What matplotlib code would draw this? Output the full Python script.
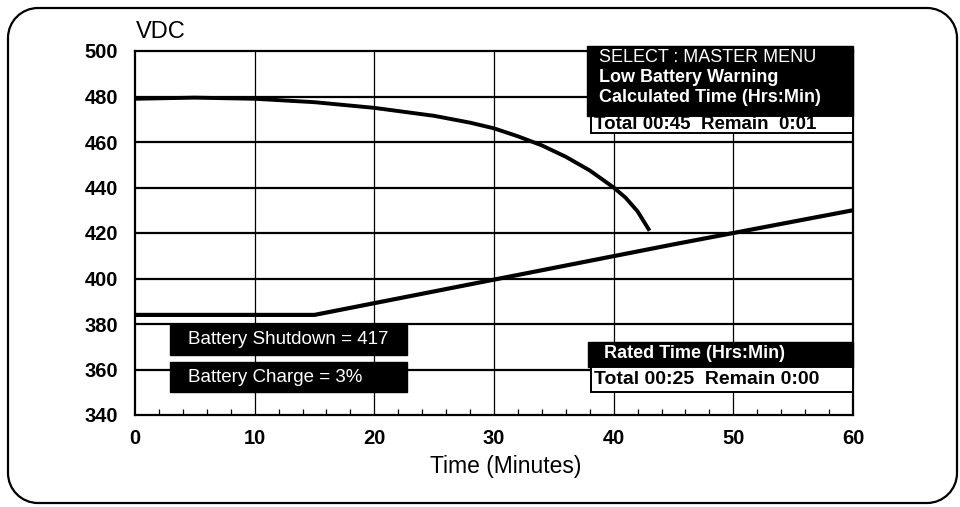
import matplotlib
matplotlib.use("Agg")
import matplotlib.pyplot as plt
from matplotlib.patches import Rectangle, PathPatch
from matplotlib.path import Path
import numpy as np

plt.rcParams['font.family'] = ['Liberation Sans', 'DejaVu Sans']

# ---- data ----
warn_time = [0, 5, 10, 15, 20, 25, 28, 30, 32, 34, 36, 38, 40, 41, 42, 43]
warn_vdc = [479, 479.5, 479, 477.5, 475, 471.5, 468.5, 466, 462.5, 458.5, 453.5, 447.5, 440, 435.5, 429.5, 421]
rated_time = [0, 15, 30, 45, 60]
rated_vdc = [384, 384, 399.5, 415, 430]
x_ticks = [0, 10, 20, 30, 40, 50, 60]
y_ticks = [340, 360, 380, 400, 420, 440, 460, 480, 500]
y_label = "VDC"
x_label = "Time (Minutes)"
box_top_lines = ["SELECT : MASTER MENU", "Low Battery Warning", "Calculated Time (Hrs:Min)"]
box_top_total = "Total 00:45  Remain  0:01"
box_shutdown = "Battery Shutdown = 417"
box_charge = "Battery Charge = 3%"
box_rated = "Rated Time (Hrs:Min)"
box_rated_total = "Total 00:25  Remain 0:00"

W, H = 960, 507
fig = plt.figure(figsize=(W / 100, H / 100), dpi=100)
fig.patch.set_facecolor('white')

def fx(x):
    return x / W

def fy(y):
    return 1 - y / H

# axes area: x 135..853, y 51..415 (pixels)
ax = fig.add_axes([fx(135), fy(415), fx(853) - fx(135), fy(51) - fy(415)])
ax.set_xlim(0, 60)
ax.set_ylim(340, 500)

for s in ax.spines.values():
    s.set_linewidth(1.6)
    s.set_color('black')

# grid
for yv in y_ticks[1:-1]:
    ax.axhline(yv, color='black', lw=1.6, zorder=1)
for xv in x_ticks[1:-1]:
    ax.axvline(xv, color='black', lw=0.9, zorder=1)

ax.plot(warn_time, warn_vdc, color='black', lw=2.8, solid_capstyle='butt', zorder=3)
ax.plot(rated_time, rated_vdc, color='black', lw=3.0, solid_capstyle='butt', zorder=3)

ax.set_xticks(x_ticks)
ax.set_yticks(y_ticks)
ax.set_xticklabels([str(v) for v in x_ticks], fontsize=14.5, fontweight='bold')
ax.set_yticklabels([str(v) for v in y_ticks], fontsize=14.5, fontweight='bold')
ax.tick_params(axis='both', which='major', length=0)
ax.tick_params(axis='y', which='major', pad=12)
ax.tick_params(axis='x', which='major', pad=10)
ax.set_xticks(np.arange(0, 61, 2), minor=True)
ax.tick_params(axis='x', which='minor', direction='in', length=4, width=0.9, bottom=True)
ax.tick_params(axis='y', which='minor', left=False)

fig.text(fx(136), fy(32), y_label, fontsize=17, ha='left', va='center')
fig.text(fx(506), fy(466), x_label, fontsize=16.5, ha='center', va='center')

def black_box(x0, y0, x1, y1):
    r = Rectangle((fx(x0), fy(y1)), fx(x1) - fx(x0), fy(y0) - fy(y1),
                  transform=fig.transFigure, facecolor='black', edgecolor='black',
                  zorder=10)
    fig.add_artist(r)

def white_box(x0, y0, x1, y1):
    r = Rectangle((fx(x0), fy(y1)), fx(x1) - fx(x0), fy(y0) - fy(y1),
                  transform=fig.transFigure, facecolor='white', edgecolor='black',
                  lw=1.4, zorder=10)
    fig.add_artist(r)

# top-right box
black_box(587, 46, 853, 116)
for i, line in enumerate(box_top_lines):
    fig.text(fx(599), fy(58 + i * 20), line, color='white', fontsize=13,
             fontweight='bold' if i > 0 else 'normal', ha='left', va='center', zorder=11)
white_box(591, 116, 853, 133)
fig.text(fx(594), fy(124.5), box_top_total, color='black', fontsize=13.5,
         fontweight='bold', ha='left', va='center', zorder=11)

# shutdown / charge boxes
black_box(170, 325, 407, 355)
fig.text(fx(188), fy(340), box_shutdown, color='white', fontsize=13.5,
         ha='left', va='center', zorder=11)
black_box(170, 362, 407, 392)
fig.text(fx(188), fy(377), box_charge, color='white', fontsize=13.5,
         ha='left', va='center', zorder=11)

# rated box
black_box(588, 342, 853, 367)
fig.text(fx(604), fy(354), box_rated, color='white', fontsize=13,
         fontweight='bold', ha='left', va='center', zorder=11)
white_box(591, 367, 853, 392)
fig.text(fx(594), fy(380), box_rated_total, color='black', fontsize=14,
         fontweight='bold', ha='left', va='center', zorder=11)

def rounded_rect_path(x0, y0, x1, y1, r):
    k = 0.5523 * r
    pts = [
        (x0 + r, y0), (x1 - r, y0),
        (x1 - r + k, y0), (x1, y0 + r - k), (x1, y0 + r),
        (x1, y1 - r),
        (x1, y1 - r + k), (x1 - r + k, y1), (x1 - r, y1),
        (x0 + r, y1),
        (x0 + r - k, y1), (x0, y1 - r + k), (x0, y1 - r),
        (x0, y0 + r),
        (x0, y0 + r - k), (x0 + r - k, y0), (x0 + r, y0),
    ]
    codes = [Path.MOVETO, Path.LINETO,
             Path.CURVE4, Path.CURVE4, Path.CURVE4,
             Path.LINETO,
             Path.CURVE4, Path.CURVE4, Path.CURVE4,
             Path.LINETO,
             Path.CURVE4, Path.CURVE4, Path.CURVE4,
             Path.LINETO,
             Path.CURVE4, Path.CURVE4, Path.CURVE4]
    pts = [(fx(a), fy(b)) for a, b in pts]
    return Path(pts, codes)

pp = PathPatch(rounded_rect_path(8, 8, 957, 503, 30), transform=fig.transFigure,
               facecolor='none', edgecolor='black', lw=1.6, zorder=12)
fig.add_artist(pp)

fig.savefig("out.png", dpi=100, facecolor='white')
